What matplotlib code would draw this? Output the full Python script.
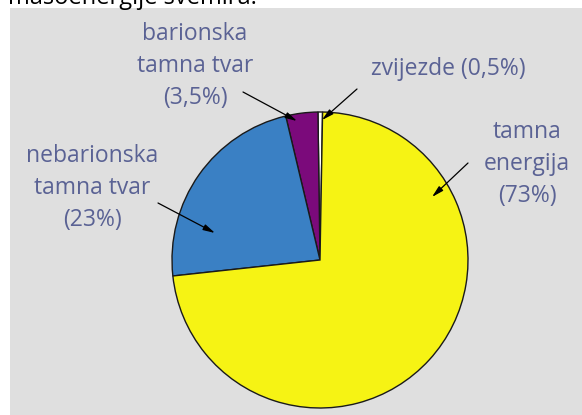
import matplotlib
matplotlib.use("Agg")
import matplotlib.pyplot as plt
from matplotlib.patches import Rectangle

# Data (counter-clockwise from the top)
labels = ["zvijezde (0,5%)", "barionska\ntamna tvar\n(3,5%)",
          "nebarionska\ntamna tvar\n(23%)", "tamna\nenergija\n(73%)"]
values = [0.5, 3.5, 23, 73]
colors = ["#ffffff", "#7b0a7b", "#3a80c4", "#f6f314"]

W, H = 582, 415
fig = plt.figure(figsize=(W / 100, H / 100), dpi=100, facecolor="white")
ax = fig.add_axes([0, 0, 1, 1])
ax.set_xlim(0, W)
ax.set_ylim(0, H)
ax.set_aspect("equal")
ax.axis("off")

def Y(y):
    return H - y

# gray panel
ax.add_patch(Rectangle((10, 0), W - 10, Y(8), facecolor="#dfdfdf", edgecolor="none", zorder=0))

# cropped caption at the top
ax.text(8, Y(4), "masoenergije svemira.", fontsize=17, family="Open Sans",
        color="black", ha="left", va="baseline", zorder=1)

ax.pie(values, colors=colors, startangle=89, counterclock=True,
       center=(320, Y(260)), radius=148, frame=True,
       wedgeprops=dict(edgecolor="#1a1a1a", linewidth=1.0))
ax.set_xlim(0, W)
ax.set_ylim(0, H)
ax.axis("off")

tc = "#5a6294"
fp = dict(family="Open Sans", fontsize=16.5, color=tc, ha="center", va="center",
          linespacing=1.42, zorder=5)
ax.text(448, Y(69), labels[0], **fp)
ax.text(195, Y(66), labels[1], **fp)
ax.text(92, Y(188), labels[2], **fp)
ax.text(527, Y(164), labels[3], **fp)

ap = dict(arrowstyle="-|>,head_length=0.7,head_width=0.18", color="black",
          lw=0.9, shrinkA=0, shrinkB=0)
arrows = [((357, 89), (322, 120)),
          ((243, 92), (297, 121)),
          ((158, 203), (215, 233)),
          ((468, 163), (432, 197))]
for (tx, ty), (hx, hy) in arrows:
    ax.annotate("", xy=(hx, Y(hy)), xytext=(tx, Y(ty)), arrowprops=ap, zorder=6)

fig.savefig("out.png", dpi=100, facecolor="white")
